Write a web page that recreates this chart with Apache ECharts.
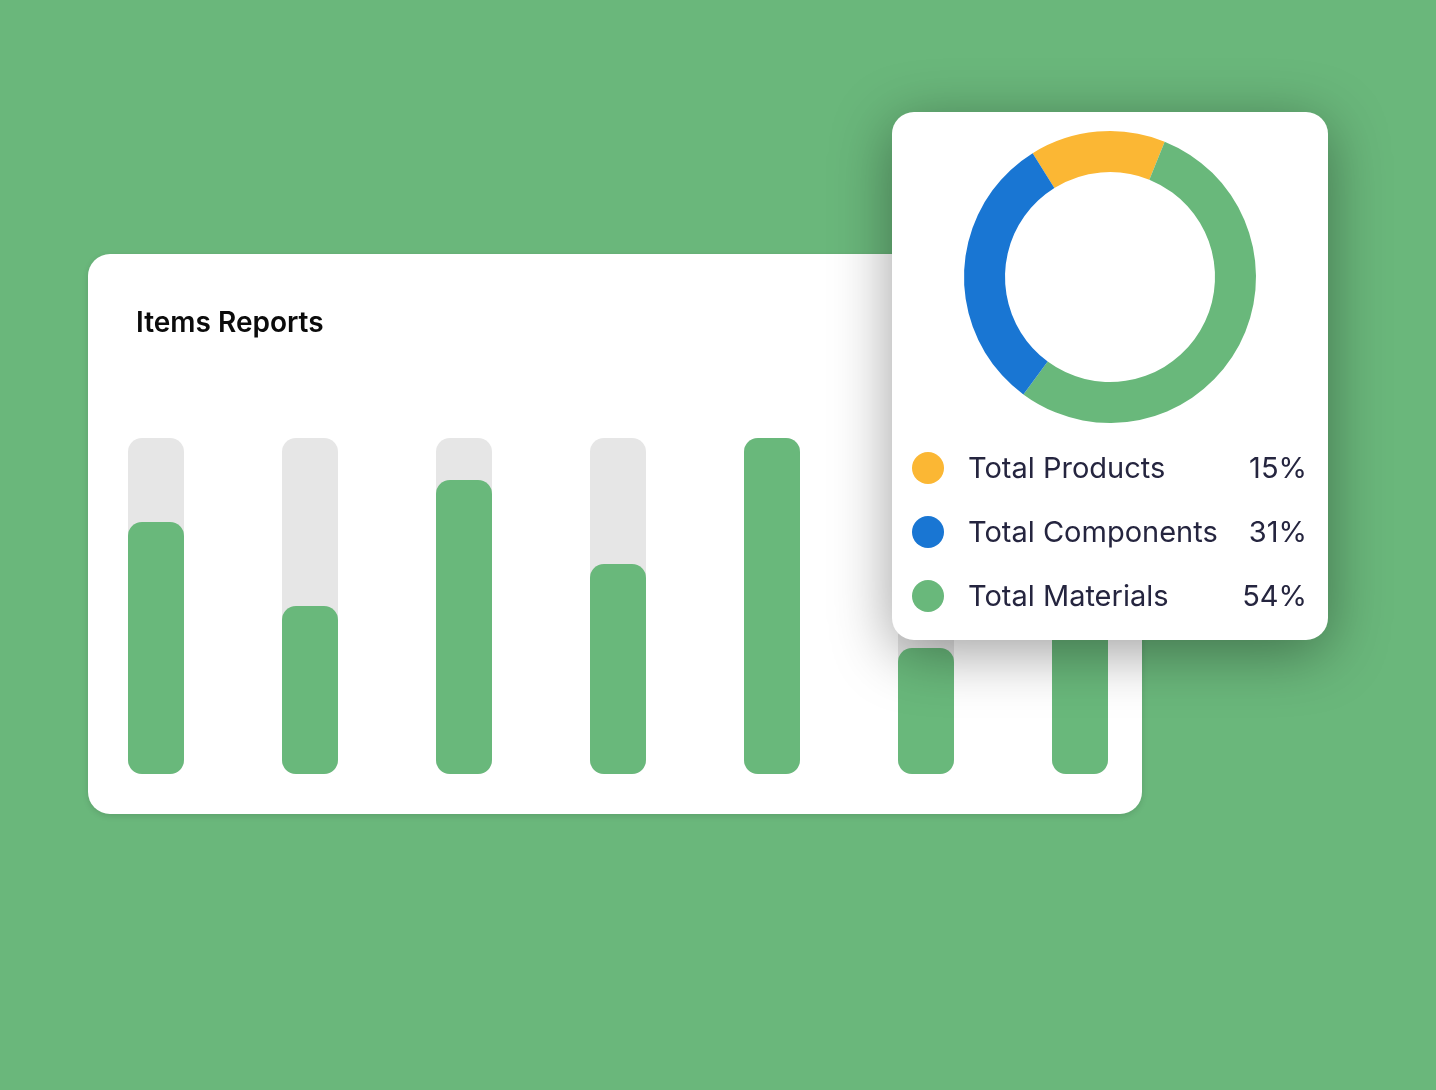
<!DOCTYPE html>
<html><head><meta charset="utf-8">
<script src="https://cdn.jsdelivr.net/npm/echarts@6/dist/echarts.min.js"></script>
<style>html,body{margin:0;padding:0;background:#6ab77b}#c{width:1436px;height:1090px}</style>
</head><body><div id="c"></div>
<script>
// Bar chart ("Items Reports")
const categories = ['1', '2', '3', '4', '5', '6', '7'];
const barValues = [75, 50, 87.5, 62.5, 100, 37.5, 62.5];
const barMax = 100;

// Donut shares
const shareNames = ['Total Products', 'Total Components', 'Total Materials'];
const shareValues = [15, 31, 54];
const shareColors = ['#fbb734', '#1976d3', '#69b87b'];
const donutOrder = [0, 2, 1]; // clockwise drawing order

const pieData = donutOrder.map(i => ({
  name: shareNames[i], value: shareValues[i], itemStyle: { color: shareColors[i] }
}));

const chart = echarts.init(document.getElementById('c'), null, { renderer: 'canvas' });
chart.setOption({
  animation: false,
  backgroundColor: '#6ab77b',
  title: {
    text: 'Items Reports', left: 136, top: 310, padding: 0,
    textStyle: { fontFamily: 'Inter', fontWeight: 600, fontSize: 28, color: '#0b0b0b' }
  },
  graphic: {
    elements: [
      { type: 'rect', z: 0, silent: true,
        shape: { x: 88, y: 254, width: 1054, height: 560, r: 22 },
        style: { fill: '#ffffff', shadowBlur: 6, shadowOffsetY: 2, shadowColor: 'rgba(0,0,0,0.12)' } },
      { type: 'rect', z: 100, silent: true,
        shape: { x: 892, y: 112, width: 436, height: 528, r: 22 },
        style: { fill: '#ffffff', shadowBlur: 60, shadowOffsetY: 12, shadowColor: 'rgba(0,0,0,0.38)' } }
    ]
  },
  grid: { left: 79, top: 438, width: 1078, height: 336 },
  xAxis: { type: 'category', data: categories, show: false },
  yAxis: { type: 'value', min: 0, max: barMax, show: false },
  legend: {
    z: 120,
    orient: 'vertical', left: 912, top: 452, padding: 0,
    itemWidth: 32, itemHeight: 32, itemGap: 32, itemTextGap: 5,
    icon: 'circle',
    data: shareNames,
    selectedMode: false,
    formatter: function (name) {
      const i = shareNames.indexOf(name);
      return '{n|' + name + '}{p|' + shareValues[i] + '%}';
    },
    textStyle: {
      color: '#25253f', fontFamily: 'Inter', fontSize: 29,
      rich: {
        n: { width: 250, padding: [2, 0, 0, 19], fontFamily: 'Inter', fontSize: 29, color: '#25253f' },
        p: { width: 89, align: 'right', padding: [2, 0, 0, 0], fontFamily: 'Inter', fontSize: 29, color: '#25253f' }
      }
    }
  },
  series: [
    {
      type: 'bar', data: barValues, barWidth: 56,
      itemStyle: { color: '#69b87b', borderRadius: 14 },
      showBackground: true,
      backgroundStyle: { color: '#e6e6e6', borderRadius: 14 },
      silent: true
    },
    {
      type: 'pie', z: 120, center: [1110, 277], radius: [105, 146],
      startAngle: 122, clockwise: true,
      label: { show: false }, labelLine: { show: false },
      data: pieData, silent: true
    }
  ]
});
</script></body></html>
